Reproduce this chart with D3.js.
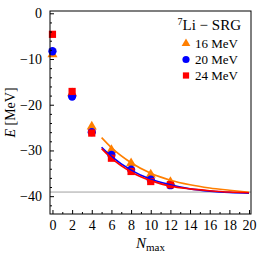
<!DOCTYPE html>
<html>
<head>
<meta charset="utf-8">
<script src="https://cdn.jsdelivr.net/npm/d3@7"></script>
<style>
  body { margin: 0; background: white; }
  text { font-family: "Liberation Serif", "DejaVu Serif", serif; }
</style>
</head>
<body>
<div id="container"></div>
<script>
/* DATA */
const nmax = [0, 2, 4, 6, 8, 10, 12];
const e16 = [-9.0, -17.5, -24.8, -29.9, -32.8, -35.3, -36.9];
const e20 = [-8.3, -18.2, -26.0, -31.0, -34.2, -36.4, -37.6];
const e24 = [-4.6, -17.1, -26.2, -31.7, -34.6, -36.8, -37.5];

// extrapolation curves
const fitN = [5, 6, 8, 10, 12, 14, 16, 18, 20];
const fit16 = [-27.2, -29.4, -32.7, -35.0, -36.5, -37.5, -38.2, -38.7, -39.15];
const fit20 = [-29.3, -31.3, -34.3, -36.3, -37.5, -38.4, -38.9, -39.2, -39.35];
const fit24 = [-29.6, -31.7, -34.7, -36.6, -37.8, -38.4, -38.8, -39.1, -39.25];

const eLimit = -39.1;
const legendLabels = ["16 MeV", "20 MeV", "24 MeV"];

/* CONSTANTS */
const width = 258, height = 258;
const margin = { top: 11, right: 7, bottom: 44, left: 50 };

const series = [
  { label: legendLabels[0], vals: e16, fit: fit16, color: "#ff7f00", shape: d3.symbolTriangle, size: 44 },
  { label: legendLabels[1], vals: e20, fit: fit20, color: "#0000ff", shape: d3.symbolCircle, size: 54 },
  { label: legendLabels[2], vals: e24, fit: fit24, color: "#ff0000", shape: d3.symbolSquare, size: 52 }
];

/* SCALES */
const xScale = d3.scaleLinear()
  .domain([-0.25, 20.2])
  .range([margin.left, width - margin.right]);

const yScale = d3.scaleLinear()
  .domain([-43.9, 0.5])
  .range([height - margin.bottom, margin.top]);

const svg = d3.select("#container")
  .append("svg")
  .attr("width", width)
  .attr("height", height);

const plot = svg.append("g");

// gray limit line
plot.append("line")
  .attr("x1", xScale.range()[0]).attr("x2", xScale.range()[1])
  .attr("y1", yScale(eLimit)).attr("y2", yScale(eLimit))
  .attr("stroke", "#a0a0a0")
  .attr("stroke-width", 1);

// markers
series.forEach(s => {
  plot.selectAll(null)
    .data(nmax.map((n, i) => [n, s.vals[i]]))
    .join("path")
    .attr("d", d3.symbol().type(s.shape).size(s.size))
    .attr("transform", d => `translate(${xScale(d[0])},${yScale(d[1])})`)
    .attr("fill", s.color);
});

// fit curves
const line = d3.line()
  .x(d => xScale(d[0]))
  .y(d => yScale(d[1]))
  .curve(d3.curveMonotoneX);

series.forEach(s => {
  plot.append("path")
    .datum(fitN.map((n, i) => [n, s.fit[i]]))
    .attr("d", line)
    .attr("fill", "none")
    .attr("stroke", s.color)
    .attr("stroke-width", 1.6);
});

/* AXES */
const xAxis = d3.axisBottom(xScale)
  .tickValues(d3.range(0, 21, 2))
  .tickSizeInner(-4).tickSizeOuter(0).tickPadding(6)
  .tickFormat(d3.format("d"));
const xMinor = d3.axisBottom(xScale)
  .tickValues(d3.range(1, 20, 2))
  .tickSizeInner(-2).tickSizeOuter(0)
  .tickFormat("");

const yAxis = d3.axisLeft(yScale)
  .tickValues([0, -10, -20, -30, -40])
  .tickSizeInner(-4).tickSizeOuter(0).tickPadding(8);
const yMinor = d3.axisLeft(yScale)
  .tickValues(d3.range(-42, 0, 2).filter(v => v % 10 !== 0))
  .tickSizeInner(-2).tickSizeOuter(0)
  .tickFormat("");

[[xAxis, "x"], [xMinor, "x"], [yAxis, "y"], [yMinor, "y"]].forEach(([ax, k]) => {
  const g = svg.append("g")
    .attr("transform", k === "x"
      ? `translate(0,${height - margin.bottom})`
      : `translate(${margin.left},0)`)
    .call(ax);
  g.select(".domain").remove();
  g.selectAll("text")
    .style("font-family", '"Liberation Serif", serif')
    .style("font-size", "14px")
    .attr("fill", "#000");
  g.selectAll("line").attr("stroke", "#000");
});

// frame
svg.append("rect")
  .attr("x", margin.left)
  .attr("y", margin.top)
  .attr("width", width - margin.left - margin.right)
  .attr("height", height - margin.top - margin.bottom)
  .attr("fill", "none")
  .attr("stroke", "#000")
  .attr("stroke-width", 1);

/* LABELS */
const yl = svg.append("text")
  .attr("transform", `translate(15,${(margin.top + height - margin.bottom) / 2}) rotate(-90)`)
  .attr("text-anchor", "middle")
  .style("font-size", "14px");
yl.append("tspan").attr("font-style", "italic").text("E");
yl.append("tspan").text(" [MeV]");

const xl = svg.append("text")
  .attr("x", (margin.left + width - margin.right) / 2)
  .attr("y", 248)
  .attr("text-anchor", "middle")
  .style("font-size", "15px");
xl.append("tspan").attr("font-style", "italic").text("N");
xl.append("tspan").attr("dy", 3).style("font-size", "11px").text("max");

/* LEGEND */
const title = svg.append("text")
  .attr("x", 241)
  .attr("y", 30)
  .attr("text-anchor", "end")
  .style("font-size", "15px");
title.append("tspan").attr("dy", -5).style("font-size", "10px").text("7");
title.append("tspan").attr("dy", 5).text("Li − SRG");

const legend = svg.append("g");
series.forEach((s, i) => {
  const y = 43.5 + i * 16;
  legend.append("path")
    .attr("d", d3.symbol().type(s.shape).size(s.size * 0.75))
    .attr("transform", `translate(186,${y})`)
    .attr("fill", s.color);
  legend.append("text")
    .attr("x", 195)
    .attr("y", y + 4)
    .style("font-size", "13px")
    .text(s.label);
});
</script>
</body>
</html>
